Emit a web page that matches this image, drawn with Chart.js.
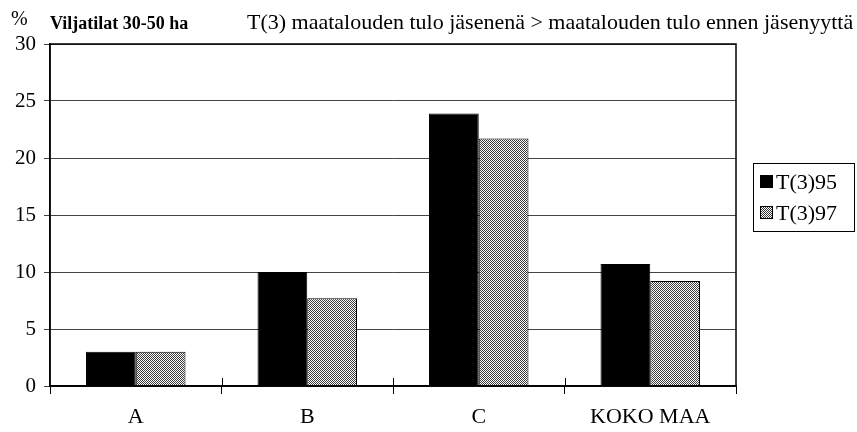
<!DOCTYPE html>
<html>
<head>
  <title>Viljatilat 30-50 ha</title>
  <script src="https://cdn.jsdelivr.net/npm/chart.js"></script>
  <style>
    body { margin: 0; background: #fff; }
  </style>
</head>
<body>
  <canvas id="chart" width="857" height="432"></canvas>
  <script>
    // data
    const categories = ['A', 'B', 'C', 'KOKO MAA'];
    const seriesNames = ['T(3)95', 'T(3)97'];
    const t95 = [3.0, 10.0, 23.9, 10.7];
    const t97 = [3.0, 7.7, 21.7, 9.2];
    const yTicks = [0, 5, 10, 15, 20, 25, 30];

    const serif = 'Liberation Serif';

    // dotted raster fill of the second series
    function stipple() {
      const c = document.createElement('canvas');
      c.width = 2; c.height = 2;
      const g = c.getContext('2d');
      g.fillStyle = '#fff'; g.fillRect(0, 0, 2, 2);
      g.fillStyle = '#3a3a3a';
      g.fillRect(0, 0, 1, 1); g.fillRect(1, 1, 1, 1);
      return g.createPattern(c, 'repeat');
    }
    const dots = stipple();
    const fills = ['#000', dots];

    // titles, legend box, small ticks over the x axis
    const decor = {
      id: 'decor',
      afterDraw(chart) {
        const ctx = chart.ctx;
        const area = chart.chartArea;
        const xs = chart.scales.x;
        ctx.save();
        ctx.strokeStyle = '#000';
        ctx.lineWidth = 1.5;
        ctx.strokeRect(area.left, area.top, area.right - area.left, area.bottom - area.top);
        ctx.lineWidth = 1;
        for (let i = 0; i < categories.length - 1; i++) {
          const bx = Math.round((xs.getPixelForTick(i) + xs.getPixelForTick(i + 1)) / 2) + 0.5;
          ctx.beginPath();
          ctx.moveTo(bx, area.bottom - 8);
          ctx.lineTo(bx, area.bottom);
          ctx.stroke();
        }

        ctx.fillStyle = '#000';
        ctx.textBaseline = 'alphabetic';
        ctx.textAlign = 'left';
        ctx.font = '20px "' + serif + '"';
        ctx.fillText('%', 11, 25);
        ctx.font = 'bold 18px "' + serif + '"';
        ctx.fillText('Viljatilat 30-50 ha', 50, 29);
        ctx.font = '22px "' + serif + '"';
        ctx.fillText('T(3) maatalouden tulo jäsenenä > maatalouden tulo ennen jäsenyyttä', 247, 29);

        // legend
        ctx.lineWidth = 1;
        ctx.strokeRect(753.5, 163.5, 101, 68);
        const rows = [182, 213];
        ctx.font = '22px "' + serif + '"';
        ctx.textBaseline = 'middle';
        seriesNames.forEach((name, i) => {
          ctx.fillStyle = fills[i];
          ctx.fillRect(760, rows[i] - 7, 13, 13);
          ctx.strokeRect(760.5, rows[i] - 6.5, 12, 12);
          ctx.fillStyle = '#000';
          ctx.fillText(name, 776, rows[i] + 1);
        });
        ctx.restore();
      }
    };

    new Chart(document.getElementById('chart'), {
      type: 'bar',
      data: {
        labels: categories,
        datasets: [{
          label: seriesNames[0],
          data: t95,
          backgroundColor: fills[0],
          borderColor: '#000',
          borderWidth: 1
        },
        {
          label: seriesNames[1],
          data: t97,
          backgroundColor: fills[1],
          borderColor: '#000',
          borderWidth: 1
        }]
      },
      options: {
        responsive: false,
        animation: false,
        layout: { padding: { top: 44, right: 121, left: 0, bottom: 0 } },
        datasets: {
          bar: { categoryPercentage: 0.58, barPercentage: 1 }
        },
        plugins: {
          legend: { display: false },
          tooltip: { enabled: false }
        },
        scales: {
          x: {
            grid: { drawOnChartArea: false, color: '#000', tickLength: 8 },
            border: { color: '#000', width: 1.5 },
            ticks: { color: '#000', padding: 10, font: { family: serif, size: 22 } },
            afterFit: s => { s.height = 46; }
          },
          y: {
            min: 0,
            max: 30,
            afterBuildTicks: s => { s.ticks = yTicks.map(v => ({ value: v })); },
            grid: { color: '#444', lineWidth: 1, tickLength: 6 },
            border: { color: '#000', width: 1.5 },
            ticks: { color: '#000', padding: 8, font: { family: serif, size: 21 } },
            afterFit: s => { s.width = 50; }
          }
        }
      },
      plugins: [decor]
    });
  </script>
</body>
</html>
